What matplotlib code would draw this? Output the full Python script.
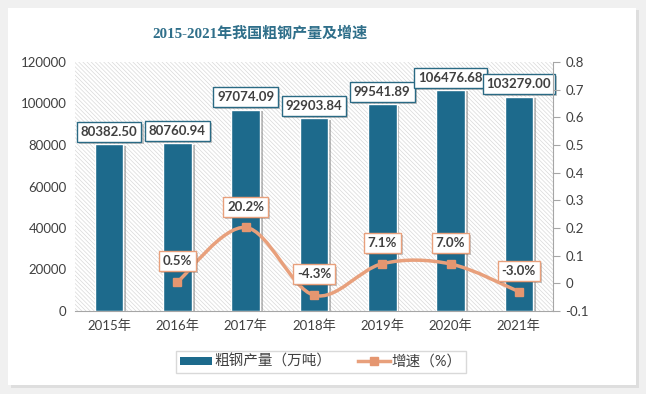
import matplotlib
matplotlib.use('Agg')
import matplotlib.pyplot as plt
import matplotlib.patheffects as pe
from matplotlib.patches import Rectangle, PathPatch
from matplotlib.path import Path
from matplotlib.lines import Line2D
import numpy as np

plt.rcParams['font.family'] = ['Lato', 'Noto Sans CJK SC']
plt.rcParams['hatch.linewidth'] = 0.5
plt.rcParams['hatch.color'] = '#d9d9d9'

years = ['2015年', '2016年', '2017年', '2018年', '2019年', '2020年', '2021年']
output = [80382.50, 80760.94, 97074.09, 92903.84, 99541.89, 106476.68, 103279.00]
growth_years = [1, 2, 3, 4, 5, 6]
growth = [0.005, 0.202, -0.043, 0.071, 0.070, -0.030]
growth_labels = ['0.5%', '20.2%', '-4.3%', '7.1%', '7.0%', '-3.0%']

BAR = '#1d6a8c'
LINE = '#e8a07c'
TXT = '#404040'


def smooth_path(xs, ys, t=1 / 6):
    n = len(xs)
    verts = [(xs[0], ys[0])]
    codes = [Path.MOVETO]
    for i in range(n - 1):
        a = i - 1 if i > 0 else i
        b = i + 2 if i + 2 < n else i + 1
        c1 = (xs[i] + (xs[i + 1] - xs[a]) * t, ys[i] + (ys[i + 1] - ys[a]) * t)
        c2 = (xs[i + 1] - (xs[b] - xs[i]) * t, ys[i + 1] - (ys[b] - ys[i]) * t)
        verts += [c1, c2, (xs[i + 1], ys[i + 1])]
        codes += [Path.CURVE4] * 3
    return Path(verts, codes)


fig = plt.figure(figsize=(6.46, 3.94), dpi=100, facecolor='#f0f0f0')

# white card with a soft shadow
fig.patches.append(Rectangle((11 / 646, 1 - 388 / 394), 628 / 646, 378 / 394,
                             transform=fig.transFigure, facecolor='#dedede',
                             edgecolor='none', zorder=-10))
fig.patches.append(Rectangle((8 / 646, 1 - 385 / 394), 628 / 646, 377 / 394,
                             transform=fig.transFigure, facecolor='white',
                             edgecolor='none', zorder=-9))

ax = fig.add_axes([75 / 646, 1 - 311 / 394, 478 / 646, 249 / 394])
ax.patch.set_facecolor('white')
ax.patch.set_hatch('\\' * 8)
ax.patch.set_edgecolor('#d9d9d9')
ax.patch.set_linewidth(0)

x = np.arange(len(years))
bars = ax.bar(x, output, width=0.42, color=BAR, edgecolor='white', linewidth=1,
              zorder=3)
for b in bars:
    b.set_path_effects([pe.SimplePatchShadow(offset=(2, -1), shadow_rgbFace='#777777',
                                             alpha=0.5), pe.Normal()])

ax.set_xlim(-0.5, len(years) - 0.5)
ax.set_ylim(0, 120000)
ax.set_yticks(np.arange(0, 120001, 20000))
ax.set_xticks(x)
ax.set_xticklabels(years)
for s in ['top', 'left', 'right']:
    ax.spines[s].set_visible(False)
ax.spines['bottom'].set_color('#a6a6a6')
ax.tick_params(axis='y', length=0, labelsize=9.5, labelcolor=TXT, pad=6)
ax.tick_params(axis='x', length=0, labelsize=9.5, labelcolor=TXT, pad=6)

for xi, v in zip(x, output):
    a = ax.annotate(f'{v:.2f}', (xi, v), xytext=(0, 9), textcoords='offset points',
                    ha='center', va='center', fontsize=9.5, fontweight='bold',
                    color=TXT, zorder=6,
                    bbox=dict(boxstyle='square,pad=0.3', facecolor='white',
                              edgecolor='#2a6a84', linewidth=1))
    a.get_bbox_patch().set_path_effects([pe.SimplePatchShadow(offset=(1.5, -1.5),
                                         alpha=0.3), pe.Normal()])

ax2 = ax.twinx()
ax2.patch.set_visible(False)
ax2.set_ylim(-0.1, 0.8)
ax2.set_yticks(np.arange(-0.1, 0.81, 0.1))
ax2.set_yticklabels([f'{v:g}' for v in np.round(np.arange(-0.1, 0.81, 0.1), 1)])
for s in ['top', 'left', 'bottom']:
    ax2.spines[s].set_visible(False)
ax2.spines['right'].set_color('#a6a6a6')
ax2.tick_params(axis='y', length=5, color='#a6a6a6', labelsize=9.5, labelcolor=TXT,
                pad=4)

ax2.add_patch(PathPatch(smooth_path(growth_years, growth), facecolor='none',
                        edgecolor=LINE, linewidth=2.5, zorder=4, capstyle='round'))
ax2.plot(growth_years, growth, linestyle='none', marker='s', markersize=6,
         color='#e59670', zorder=5)

for xi, v, lab in zip(growth_years, growth, growth_labels):
    a = ax2.annotate(lab, (xi, v), xytext=(0, 15), textcoords='offset points',
                     ha='center', va='center', fontsize=9.5, fontweight='bold',
                     color=TXT, zorder=6,
                     bbox=dict(boxstyle='square,pad=0.3', facecolor='white',
                               edgecolor=LINE, linewidth=1))
    a.get_bbox_patch().set_path_effects([pe.SimplePatchShadow(offset=(1.5, -1.5),
                                         alpha=0.3), pe.Normal()])

fig.text(260 / 646, 1 - 33 / 394, '2015-2021年我国粗钢产量及增速', ha='center',
         va='center', fontsize=10.8, fontweight='bold', color='#2f6f8a',
         family=['Liberation Serif', 'Noto Sans CJK SC'])

handles = [Rectangle((0, 0), 1, 1, facecolor=BAR, edgecolor='none'),
           Line2D([], [], color=LINE, linewidth=2.5, marker='s', markersize=6,
                  markerfacecolor='#e59670', markeredgecolor='#e59670')]
fig.legend(handles, ['粗钢产量（万吨）', '增速（%）'], loc='center',
           bbox_to_anchor=(321 / 646, 1 - 362 / 394), ncol=2, fontsize=10.5,
           frameon=True, fancybox=False, edgecolor='#d0d0d0', handlelength=2.2,
           handleheight=0.5, handletextpad=0.15, columnspacing=1.8,
           borderpad=0.3, labelcolor=TXT)

fig.savefig('out.png', dpi=100, facecolor=fig.get_facecolor())
